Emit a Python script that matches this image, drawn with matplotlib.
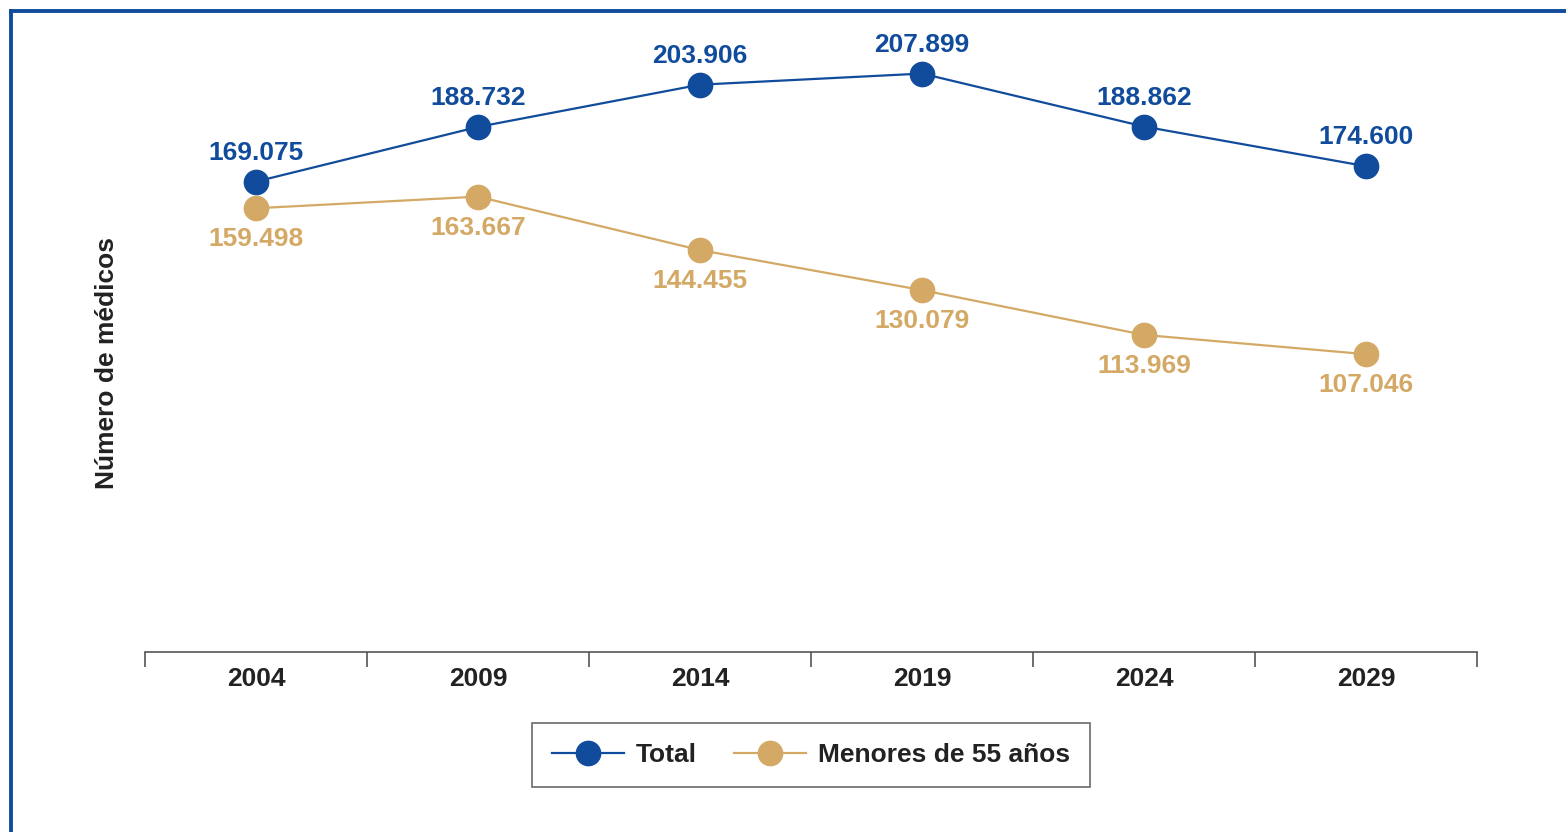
import matplotlib
matplotlib.use("Agg")
import matplotlib.pyplot as plt
from matplotlib.lines import Line2D

years = ["2004", "2009", "2014", "2019", "2024", "2029"]
total = [169075, 188732, 203906, 207899, 188862, 174600]
menores = [159498, 163667, 144455, 130079, 113969, 107046]
series_names = ["Total", "Menores de 55 años"]
ylabel = "Número de médicos"

BLUE = "#114C9C"
GOLD = "#D4A965"

plt.rcParams["font.family"] = ["Liberation Sans", "DejaVu Sans"]
plt.rcParams["font.weight"] = "bold"

W, H = 1566, 832
fig = plt.figure(figsize=(W / 100, H / 100), dpi=100)
ax = fig.add_axes([145 / W, 1 - 652 / H, (1477 - 145) / W, (652 - 26) / H])

x = list(range(len(years)))
ax.plot(x, total, color=BLUE, lw=1.6, marker="o", ms=17.5, label=series_names[0], zorder=3)
ax.plot(x, menores, color=GOLD, lw=1.6, marker="o", ms=17.5, label=series_names[1], zorder=3)

def fmt(v):
    return f"{v:,}".replace(",", ".")

for xi, v in zip(x, total):
    ax.annotate(fmt(v), (xi, v), xytext=(0, 29), textcoords="offset pixels",
                ha="center", va="center", color=BLUE, fontsize=19, fontweight="bold")
for xi, v in zip(x, menores):
    ax.annotate(fmt(v), (xi, v), xytext=(0, -31), textcoords="offset pixels",
                ha="center", va="center", color=GOLD, fontsize=19, fontweight="bold")

ax.set_xlim(-0.5, len(years) - 0.5)
ax.set_ylim(0, 225000)
ax.set_xticks(x)
ax.set_xticklabels(years, fontsize=19, fontweight="bold", color="#222222")
ax.set_xticks([i - 0.5 for i in range(len(years) + 1)], minor=True)
ax.tick_params(axis="x", which="major", length=0, pad=11)
ax.tick_params(axis="x", which="minor", length=11, width=1.2, color="#555555")
ax.set_yticks([])
for s in ["left", "right", "top"]:
    ax.spines[s].set_visible(False)
ax.spines["bottom"].set_color("#555555")
ax.spines["bottom"].set_linewidth(1.2)

fig.text(107 / W, 1 - 363 / H, ylabel, rotation=90, ha="center", va="center",
         fontsize=19, fontweight="bold", color="#222222")

leg = ax.legend(loc="center", bbox_to_anchor=(0.5, 1 - (755 - 26) / (652 - 26)),
                ncol=2, frameon=True, fancybox=False, fontsize=19,
                handlelength=2.75, columnspacing=1.4, borderpad=0.75, handletextpad=0.45)
leg.get_frame().set_edgecolor("#444444")
leg.get_frame().set_linewidth(1.2)
for t in leg.get_texts():
    t.set_color("#222222")

# blue frame (left and top edges)
fig.add_artist(Line2D([11 / W, 11 / W], [0, 1 - 11 / H], transform=fig.transFigure,
                      color=BLUE, lw=2.8, solid_capstyle="projecting"))
fig.add_artist(Line2D([11 / W, 1], [1 - 11 / H, 1 - 11 / H], transform=fig.transFigure,
                      color=BLUE, lw=2.8, solid_capstyle="projecting"))

fig.savefig("out.png", dpi=100)
